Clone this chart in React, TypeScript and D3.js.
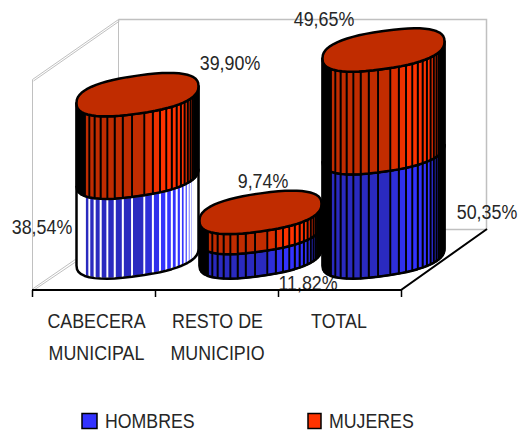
import React from "react";
import * as d3 from "d3";

const categories = ["CABECERA MUNICIPAL", "RESTO DE MUNICIPIO", "TOTAL"];
const categoryLines = [["CABECERA", "MUNICIPAL"], ["RESTO DE", "MUNICIPIO"], ["TOTAL"]];
const hombres = [38.54, 11.82, 50.35];
const mujeres = [39.9, 9.74, 49.65];
const hombresLabels = ["38,54%", "11,82%", "50,35%"];
const mujeresLabels = ["39,90%", "9,74%", "49,65%"];

const FONT = "'Liberation Sans', Arial, sans-serif";
const TEXT = "#262626";
const RED_D = "#C02C00", RED_B = "#FF3300", BLUE_D = "#2A2ABF", BLUE_B = "#3333FF";
const hombresLabelPos: [number, number][] = [[42, 234], [308, 290], [487, 219]];
const mujeresLabelPos: [number, number][] = [[230, 70], [263, 188], [324, 26]];
const categoryLabelShift = [3, 1, -0.5];

const x = d3.scaleBand<string>().domain(categories).range([32, 401]).padding(0);
const y = d3.scaleLinear().domain([0, 100]).range([257, 50]);
const DEPTH_X = 44;
const A = 61, B = 19, K = 8.5, N = 56, P = 0.82;

const sp = (v: number) => Math.sign(v) * Math.pow(Math.abs(v), P);
const pt = (cx: number, cy: number, t: number): [number, number] => [
  cx + A * sp(Math.cos(t)),
  cy + B * sp(Math.sin(t)) - K * sp(Math.cos(t)),
];
const line = d3.line();
const angles = d3.range(N + 1).map((i) => (i * 2 * Math.PI) / N);
const frontAngles = angles.filter((t) => t <= Math.PI + 1e-6).map((t) => t - 0.3 * Math.sin(t));

function Band({ cx, y0, y1, dark, bright, stripe }: { cx: number; y0: number; y1: number; dark: string; bright: string; stripe: string }) {
  const shade = d3.scaleLinear<string>().domain([0.5, 0.72]).range([dark, bright]).clamp(true);
  const facets = frontAngles.slice(0, -1).map((t, i) => {
    const t2 = frontAngles[i + 1];
    const a = pt(cx, y1, t), b = pt(cx, y1, t2), c = pt(cx, y0, t2), d = pt(cx, y0, t);
    const f = ((a[0] + b[0]) / 2 - (cx - A)) / (2 * A);
    return { pts: [a, b, c, d] as [number, number][], fill: f < 0.06 ? stripe : shade(f) };
  });
  return (
    <g>
      {facets.map((p, i) => (
        <path key={i} d={line(p.pts)! + "Z"} fill={p.fill} stroke={stripe} strokeWidth={1.8} strokeLinejoin="round" />
      ))}
    </g>
  );
}

function Cylinder({ i }: { i: number }) {
  const cx = x(categories[i])! + x.bandwidth() / 2 + DEPTH_X;
  const yBase = y(0), yMid = y(hombres[i]), yTop = y(hombres[i] + mujeres[i]);
  const blueStripe = i === 0 ? "#ffffff" : "#000000";
  const front = frontAngles.map((t) => pt(cx, yBase, t));
  const topEdge = frontAngles.slice().reverse().map((t) => pt(cx, yTop, t));
  const midEdge = frontAngles.map((t) => pt(cx, yMid, t));
  const outline = angles.map((t) => pt(cx, yTop, t));
  return (
    <g>
      <Band cx={cx} y0={yBase} y1={yMid} dark={BLUE_D} bright={BLUE_B} stripe={blueStripe} />
      <Band cx={cx} y0={yMid} y1={yTop} dark={RED_D} bright={RED_B} stripe="#000000" />
      <path d={line(midEdge)!} fill="none" stroke="#000" strokeWidth={2.5} />
      <path d={line([...front, ...topEdge])! + "Z"} fill="none" stroke="#000" strokeWidth={2.5} strokeLinejoin="round" />
      <path d={line(outline)! + "Z"} fill={RED_D} stroke="#000" strokeWidth={2.5} strokeLinejoin="round" />
    </g>
  );
}

function Label({ x, y, anchor = "middle", size = 20.5, sx = 0.87, children }: { x: number; y: number; anchor?: "middle" | "start"; size?: number; sx?: number; children: React.ReactNode }) {
  return (
    <text transform={`translate(${x} ${y}) scale(${sx} 1)`} textAnchor={anchor} fontFamily={FONT} fontSize={size} fill={TEXT}>
      {children}
    </text>
  );
}

export default function App() {
  const ticks = [...categories.map((c) => x(c)!), x.range()[1]];
  const GRAY = "#C0C0C0";
  return (
    <svg width={518} height={432} style={{ position: "absolute", left: 0, top: 0, background: "#fff" }}>
      {/* walls */}
      <g fill="none" stroke={GRAY} strokeWidth={1}>
        <path d="M118.5 19.5H486.5V229.5H402" strokeWidth={1.5} />
        <path d="M118.5 19.5V229" />
        <path d="M32.5 79.5L118.5 19.5M33.5 81L119.5 21" />
        <path d="M32.5 79.5V290" />
        <path d="M32.5 289L76 259M34 290L77 261" />
      </g>
      {hombresLabels.map((l, i) => i === 1 && (
        <Label key={l} x={hombresLabelPos[i][0]} y={hombresLabelPos[i][1]}>{l}</Label>
      ))}
      {/* floor edges and ticks */}
      <g fill="none" stroke="#000">
        <path d="M32 290H401L487 229" strokeWidth={2} />
        {ticks.map((t, i) => (
          <path key={i} d={`M${Math.round(t) + 0.5} 290V297`} strokeWidth={1.5} />
        ))}
      </g>
      {categories.map((_, i) => <Cylinder key={i} i={i} />)}
      {hombresLabels.map((l, i) => i !== 1 && (
        <Label key={l} x={hombresLabelPos[i][0]} y={hombresLabelPos[i][1]}>{l}</Label>
      ))}
      {mujeresLabels.map((l, i) => (
        <Label key={l} x={mujeresLabelPos[i][0]} y={mujeresLabelPos[i][1]}>{l}</Label>
      ))}
      {categoryLines.map((lines, i) => lines.map((s, j) => (
        <Label key={s} x={x(categories[i])! + x.bandwidth() / 2 + categoryLabelShift[i]} y={328 + j * 32}>{s}</Label>
      )))}
      {/* legend */}
      <rect x={82} y={413.5} width={15} height={15} fill={BLUE_B} stroke="#000" strokeWidth={1.5} />
      <Label x={105} y={427.8} anchor="start" size={19.5} sx={0.91}>HOMBRES</Label>
      <rect x={308} y={413.5} width={13} height={15} fill={RED_B} stroke="#000" strokeWidth={1.5} />
      <Label x={329} y={427.8} anchor="start" size={19.5} sx={0.91}>MUJERES</Label>
    </svg>
  );
}
